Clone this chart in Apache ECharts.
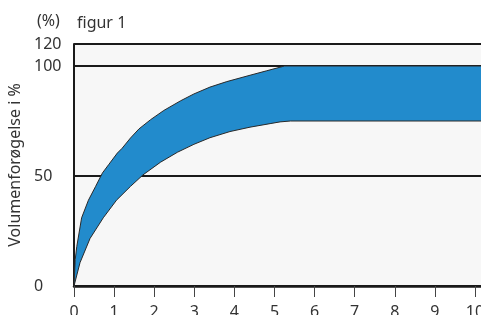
<!DOCTYPE html>
<html>
<head>
    <meta charset="utf-8">
    <title>figur 1</title>
    <script src="https://cdn.jsdelivr.net/npm/echarts@6/dist/echarts.min.js"></script>
    <style>
        html, body {margin: 0; padding: 0; background: #fff;}
        #main {width: 481px; height: 315px;}
    </style>
</head>
<body>
<div id="main"></div>
<script type="text/javascript">
    // øvre og nedre kurve
    var upperX = [0, 0.03, 0.07, 0.19, 0.36, 0.54, 0.71, 0.87, 1.08, 1.2, 1.41, 1.62, 1.91, 2.24, 2.66, 2.99, 3.39, 3.81, 4.39, 4.8, 5.25, 10.15];
    var upperY = [0, 12, 18, 31, 39, 45.3, 51.4, 55.3, 60.4, 62.6, 67.3, 71.4, 75.6, 79.8, 84.2, 87.3, 90.4, 92.9, 95.8, 97.8, 100, 100];
    var lowerX = [0, 0.15, 0.4, 0.73, 1.06, 1.41, 1.72, 2.16, 2.58, 2.99, 3.39, 3.89, 4.39, 4.89, 5.14, 5.4, 10.15];
    var lowerY = [0, 10.6, 21.6, 31, 39, 45.3, 50.5, 56.3, 60.8, 64.4, 67.4, 70.2, 72.2, 73.8, 74.6, 75, 75];

    var xTicks = [0, 1, 2, 3, 4, 5, 6, 7, 8, 9, 10];
    var yTickValues = [0, 50, 100, 110];
    var yTickLabels = ['0', '50', '100', '120'];

    var font = 'Noto Sans';
    var ink = '#333';

    function pairs(xs, ys) {
        var out = [];
        for (var i = 0; i < xs.length; i++) out.push([xs[i], ys[i]]);
        return out;
    }

    var chart = echarts.init(document.getElementById('main'));
    chart.setOption({
        animation: false,
        title: [
            {text: '(%)', left: 32, top: 8, textStyle: {fontFamily: font, fontSize: 16, fontWeight: 'normal', color: ink}},
            {text: 'figur 1', left: 72, top: 10, textStyle: {fontFamily: font, fontSize: 16, fontWeight: 'normal', color: ink}}
        ],
        grid: {
            left: 74, right: 0, top: 44, bottom: 29,
            outerBoundsMode: 'none',
            show: true, backgroundColor: '#f7f7f7', borderWidth: 0
        },
        xAxis: {
            type: 'value',
            min: 0,
            max: 10.15,
            axisLine: {show: true, lineStyle: {color: '#1a1a1a', width: 2.5}},
            axisTick: {show: true, customValues: xTicks, length: 11, lineStyle: {color: '#444', width: 1}},
            axisLabel: {customValues: xTicks, margin: 18, fontFamily: font, fontSize: 16, color: ink},
            splitLine: {show: false}
        },
        yAxis: {
            type: 'value',
            min: 0,
            max: 110,
            interval: 50,
            name: 'Volumenforøgelse i %',
            nameLocation: 'middle',
            nameGap: 47,
            nameTextStyle: {fontFamily: font, fontSize: 16, color: ink},
            axisLine: {show: true, lineStyle: {color: '#1a1a1a', width: 2}},
            axisTick: {show: false},
            axisLabel: {
                align: 'left', margin: 40, fontFamily: font, fontSize: 16, color: ink,
                formatter: function (v) {
                    var i = yTickValues.indexOf(v);
                    return i < 0 ? '' : yTickLabels[i];
                }
            },
            splitLine: {show: true, lineStyle: {color: '#1a1a1a', width: 2}}
        },
        series: [
            {
                type: 'custom',
                clip: true,
                silent: true,
                data: [[0, 0]],
                renderItem: function (params, api) {
                    var pts = [];
                    for (var i = 0; i < upperX.length; i++) pts.push(api.coord([upperX[i], upperY[i]]));
                    for (var j = lowerX.length - 1; j >= 0; j--) pts.push(api.coord([lowerX[j], lowerY[j]]));
                    return {type: 'polygon', shape: {points: pts}, style: {fill: '#228bcc'}};
                }
            },
            {
                type: 'line', showSymbol: false, silent: true,
                lineStyle: {color: '#2a2a2a', width: 1},
                data: pairs(upperX, upperY)
            },
            {
                type: 'line', showSymbol: false, silent: true,
                lineStyle: {color: '#2a2a2a', width: 1},
                data: pairs(lowerX, lowerY)
            }
        ]
    });
</script>
</body>
</html>
